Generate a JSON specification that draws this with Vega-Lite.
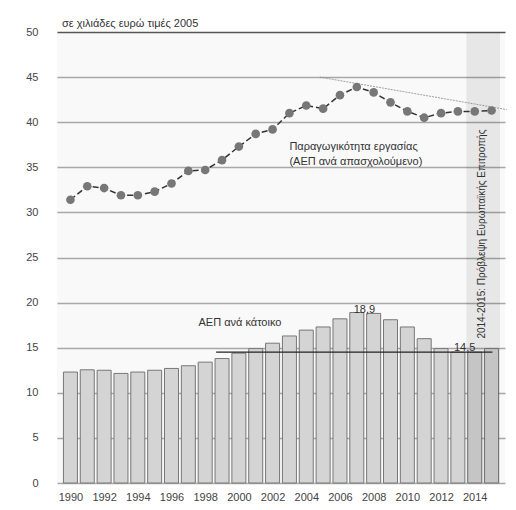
{
  "$schema": "https://vega.github.io/schema/vega-lite/v6.json",
  "width": 448,
  "height": 451,
  "autosize": {"type": "none"},
  "padding": {"left": 57, "top": 32, "right": 11, "bottom": 27},
  "background": "white",
  "config": {
    "view": {"fill": "#f9f9f9", "stroke": null},
    "font": "Liberation Sans",
    "axis": {"labelFont": "Liberation Sans", "labelFontSize": 11, "labelColor": "#444", "labelOverlap": false, "labelFlush": false, "labelBound": false}
  },
  "datasets": {
    "series": [
      {"year": 1990, "gdp_pc": 12.3, "prod": 31.4},
      {"year": 1991, "gdp_pc": 12.55, "prod": 32.9},
      {"year": 1992, "gdp_pc": 12.5, "prod": 32.7},
      {"year": 1993, "gdp_pc": 12.15, "prod": 31.9},
      {"year": 1994, "gdp_pc": 12.3, "prod": 31.9},
      {"year": 1995, "gdp_pc": 12.5, "prod": 32.3},
      {"year": 1996, "gdp_pc": 12.7, "prod": 33.2},
      {"year": 1997, "gdp_pc": 13.0, "prod": 34.6},
      {"year": 1998, "gdp_pc": 13.4, "prod": 34.7},
      {"year": 1999, "gdp_pc": 13.8, "prod": 35.8},
      {"year": 2000, "gdp_pc": 14.4, "prod": 37.3},
      {"year": 2001, "gdp_pc": 14.9, "prod": 38.7},
      {"year": 2002, "gdp_pc": 15.5, "prod": 39.2},
      {"year": 2003, "gdp_pc": 16.3, "prod": 41.0},
      {"year": 2004, "gdp_pc": 16.95, "prod": 41.85},
      {"year": 2005, "gdp_pc": 17.3, "prod": 41.5},
      {"year": 2006, "gdp_pc": 18.2, "prod": 43.0},
      {"year": 2007, "gdp_pc": 18.9, "prod": 43.9},
      {"year": 2008, "gdp_pc": 18.8, "prod": 43.3},
      {"year": 2009, "gdp_pc": 18.1, "prod": 42.2},
      {"year": 2010, "gdp_pc": 17.3, "prod": 41.2},
      {"year": 2011, "gdp_pc": 16.0, "prod": 40.5},
      {"year": 2012, "gdp_pc": 14.9, "prod": 41.0},
      {"year": 2013, "gdp_pc": 14.5, "prod": 41.2},
      {"year": 2014, "gdp_pc": 14.5, "prod": 41.2},
      {"year": 2015, "gdp_pc": 14.9, "prod": 41.3}
    ]
  },
  "encoding": {
    "x": {
      "type": "quantitative",
      "scale": {"domain": [1989.5, 2015.5], "nice": false, "zero": false},
      "axis": {"values": [1990, 1992, 1994, 1996, 1998, 2000, 2002, 2004, 2006, 2008, 2010, 2012, 2014], "format": "d", "title": null, "grid": false, "domain": false, "ticks": false, "labelPadding": 8, "labelOverlap": false}
    }
  },
  "layer": [
    {
      "data": {"name": "series"},
      "mark": {"type": "bar", "size": 14, "fill": "#d4d4d4", "stroke": "#777", "strokeWidth": 1},
      "encoding": {
        "x": {"field": "year", "type": "quantitative"},
        "y": {
          "field": "gdp_pc", "type": "quantitative",
          "scale": {"domain": [0, 50], "nice": false},
          "axis": {"values": [0, 5, 10, 15, 20, 25, 30, 35, 40, 45, 50], "title": null, "domain": false, "ticks": false, "labelPadding": 19, "gridColor": {"condition": {"test": "datum.value === 50", "value": "#555"}, "value": "#a8a8a8"}, "gridWidth": 1.3}
        }
      }
    },
    {
      "data": {"values": [{"x1": 2013.5, "x2": 2015.5, "y1": 0, "y2": 50}]},
      "mark": {"type": "rect", "fill": "#000", "opacity": 0.07},
      "encoding": {
        "x": {"field": "x1", "type": "quantitative"},
        "x2": {"field": "x2"},
        "y": {"field": "y1", "type": "quantitative"},
        "y2": {"field": "y2"}
      }
    },
    {
      "data": {"values": [{"x1": 1998.65, "x2": 2015.05, "v": 14.5}]},
      "mark": {"type": "rule", "stroke": "#222", "strokeWidth": 1.2},
      "encoding": {
        "x": {"field": "x1", "type": "quantitative"},
        "x2": {"field": "x2"},
        "y": {"field": "v", "type": "quantitative"}
      }
    },
    {
      "data": {"values": [{"x1": 2004.8, "y1": 45.0, "x2": 2015.9, "y2": 41.4}]},
      "mark": {"type": "rule", "stroke": "#888", "strokeWidth": 0.8, "strokeDash": [2, 1]},
      "encoding": {
        "x": {"field": "x1", "type": "quantitative"},
        "x2": {"field": "x2"},
        "y": {"field": "y1", "type": "quantitative"},
        "y2": {"field": "y2"}
      }
    },
    {
      "data": {"name": "series"},
      "mark": {"type": "line", "stroke": "#333", "strokeWidth": 1.5, "strokeDash": [6, 3]},
      "encoding": {
        "x": {"field": "year", "type": "quantitative"},
        "y": {"field": "prod", "type": "quantitative"}
      }
    },
    {
      "data": {"name": "series"},
      "mark": {"type": "circle", "fill": "#777", "size": 75, "opacity": 1},
      "encoding": {
        "x": {"field": "year", "type": "quantitative"},
        "y": {"field": "prod", "type": "quantitative"}
      }
    },
    {
      "data": {"values": [
        {"x": 1989.5, "y": 50, "t": "σε χιλιάδες ευρώ τιμές 2005"}
      ]},
      "mark": {"type": "text", "fontSize": 11, "color": "#333", "align": "left", "baseline": "alphabetic", "dy": -5},
      "encoding": {
        "x": {"field": "x", "type": "quantitative"},
        "y": {"field": "y", "type": "quantitative"},
        "text": {"field": "t"}
      }
    },
    {
      "data": {"values": [
        {"x": 2003.0, "y": 37.3, "t": "Παραγωγικότητα εργασίας"},
        {"x": 2003.0, "y": 35.6, "t": "(ΑΕΠ ανά απασχολούμενο)"},
        {"x": 1997.6, "y": 17.7, "t": "ΑΕΠ ανά κάτοικο"}
      ]},
      "mark": {"type": "text", "fontSize": 11, "color": "#333", "align": "left", "baseline": "middle"},
      "encoding": {
        "x": {"field": "x", "type": "quantitative"},
        "y": {"field": "y", "type": "quantitative"},
        "text": {"field": "t"}
      }
    },
    {
      "data": {"values": [
        {"x": 2007.45, "y": 19.2, "t": "18,9"},
        {"x": 2013.4, "y": 14.95, "t": "14,5"}
      ]},
      "mark": {"type": "text", "fontSize": 11, "color": "#333", "align": "center", "baseline": "middle"},
      "encoding": {
        "x": {"field": "x", "type": "quantitative"},
        "y": {"field": "y", "type": "quantitative"},
        "text": {"field": "t"}
      }
    },
    {
      "data": {"values": [{"x": 2014.45, "y": 27.6, "t": "2014-2015: Πρόβλεψη Ευρωπαϊκής Επιτροπής"}]},
      "mark": {"type": "text", "fontSize": 10, "color": "#333", "angle": 270, "align": "center", "baseline": "middle"},
      "encoding": {
        "x": {"field": "x", "type": "quantitative"},
        "y": {"field": "y", "type": "quantitative"},
        "text": {"field": "t"}
      }
    }
  ]
}
